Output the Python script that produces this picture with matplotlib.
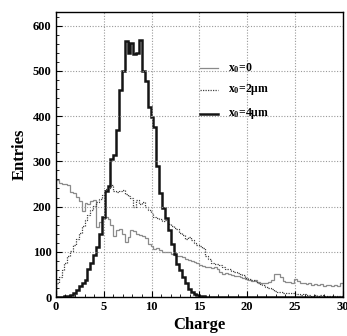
import numpy as np
import matplotlib
matplotlib.use("Agg")
import matplotlib.pyplot as plt
from matplotlib.ticker import MultipleLocator

plt.rcParams['font.family'] = ['Liberation Serif', 'DejaVu Serif']
plt.rcParams['font.weight'] = 'bold'
plt.rcParams['mathtext.fontset'] = 'custom'
plt.rcParams['mathtext.rm'] = 'Liberation Serif:bold'
plt.rcParams['mathtext.it'] = 'Liberation Serif:bold'

# charge histograms, 100 bins from 0 to 30
charge_min, charge_max, n_bins = 0, 30, 100

entries_x0_0 = [
    258, 252, 250, 250, 248, 232, 230, 222, 212, 190,
    208, 205, 212, 215, 155, 165, 172, 178, 172, 160,
    135, 148, 150, 140, 122, 132, 148, 145, 140, 138,
    136, 130, 118, 112, 106, 108, 103, 100, 99, 100,
    96, 92, 90, 91, 88, 85, 82, 80, 78, 76,
    70, 68, 66, 67, 64, 66, 62, 56, 52, 54,
    50, 48, 46, 47, 44, 43, 40, 38, 36, 37,
    33, 30, 31, 30, 34, 38, 50, 52, 44, 36,
    33, 34, 32, 40, 36, 30, 30, 28, 31, 27,
    28, 26, 29, 25, 27, 26, 24, 27, 25, 32,
]

entries_x0_2 = [
    32, 45, 60, 75, 90, 102, 115, 128, 142, 158,
    170, 182, 192, 202, 210, 216, 225, 238, 242, 248,
    235, 232, 234, 236, 228, 224, 220, 200, 215, 205,
    210, 198, 192, 185, 178, 174, 172, 168, 170, 162,
    158, 153, 150, 142, 138, 128, 132, 125, 120, 115,
    112, 108, 90, 85, 76, 73, 72, 70, 66, 63,
    62, 58, 56, 54, 52, 48, 42, 40, 38, 36,
    32, 28, 26, 22, 20, 17, 14, 12, 11, 10,
    9, 8, 9, 6, 7, 5, 6, 4, 5, 3,
    4, 3, 4, 2, 3, 2, 3, 2, 3, 2,
]

entries_x0_4 = [
    0, 0, 0, 2, 3, 4, 8, 15, 24, 30,
    38, 62, 75, 92, 110, 140, 178, 235, 245, 305,
    315, 370, 458, 500, 565, 540, 562, 538, 540, 569,
    500, 478, 420, 398, 375, 290, 230, 197, 174, 148,
    118, 96, 74, 60, 44, 30, 18, 11, 6, 4,
    3, 2, 1, 0, 0, 0, 0, 0, 0, 0,
    0, 0, 0, 0, 0, 0, 0, 0, 0, 0,
    0, 0, 0, 0, 0, 0, 0, 0, 0, 0,
    0, 0, 0, 0, 0, 0, 0, 0, 0, 0,
    0, 0, 0, 0, 0, 0, 0, 0, 0, 0,
]

labels = ["x$_{\\mathrm{0}}$=0", "x$_{\\mathrm{0}}$=2μm", "x$_{\\mathrm{0}}$=4μm"]

edges = np.linspace(charge_min, charge_max, n_bins + 1)

fig = plt.figure(figsize=(3.47, 3.36), dpi=100)
ax = fig.add_axes([0.161, 0.116, 0.827, 0.848])

styles = [
    dict(color='#8a8a8a', lw=0.9, ls='-'),
    dict(color='#404040', lw=0.9, ls=(0, (1, 1))),
    dict(color='#151515', lw=1.8, ls='-'),
]
for vals, st in zip([entries_x0_0, entries_x0_2, entries_x0_4], styles):
    ax.stairs(vals, edges, **st)

ax.set_xlim(0, 30)
ax.set_ylim(0, 630)
ax.xaxis.set_major_locator(MultipleLocator(5))
ax.xaxis.set_minor_locator(MultipleLocator(1))
ax.yaxis.set_major_locator(MultipleLocator(100))
ax.yaxis.set_minor_locator(MultipleLocator(20))
ax.tick_params(which='both', direction='in', labelsize=9, pad=3)
ax.tick_params(which='major', length=4)
ax.tick_params(which='minor', length=2)
ax.grid(True, which='major', color='#999999', ls=(0, (1, 1.5)), lw=0.8)
for sp in ax.spines.values():
    sp.set_linewidth(1.0)

ax.set_xlabel('Charge', fontsize=12, fontweight='bold', labelpad=3)
ax.set_ylabel('Entries', fontsize=12, fontweight='bold', labelpad=4)

# legend drawn by hand, lines then labels
leg_y = [507, 458, 405]
for st, lab, yy in zip(styles, labels, leg_y):
    ax.plot([15.1, 16.9], [yy, yy], **st)
    ax.text(18.0, yy, lab, fontsize=8.5, fontweight='bold', va='center', ha='left')

fig.savefig('out.png', dpi=100)
